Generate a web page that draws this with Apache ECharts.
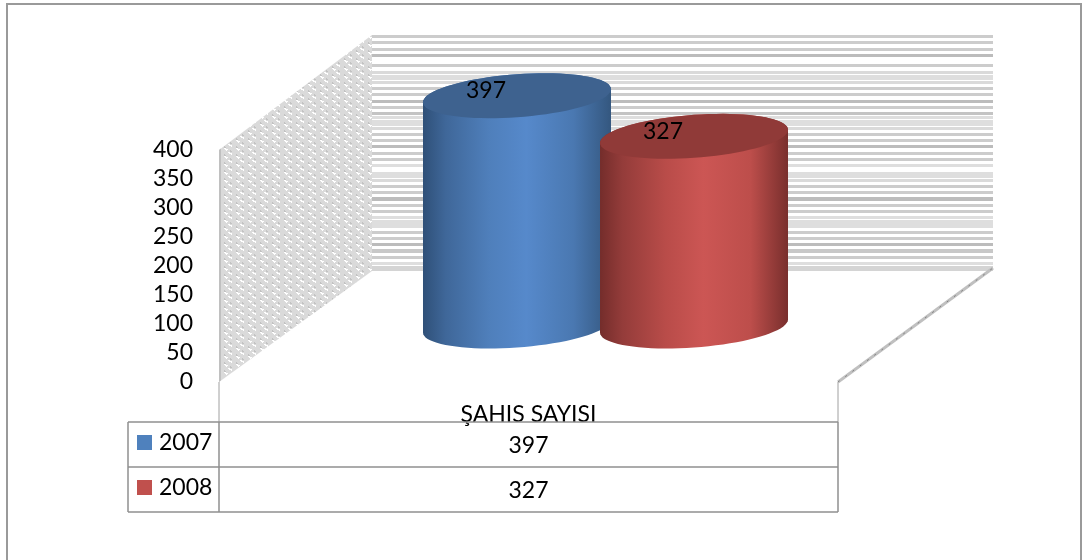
<!DOCTYPE html>
<html>
<head>
<meta charset="utf-8">
<style>
  html, body { margin: 0; padding: 0; background: #fff; }
  #chart { width: 1083px; height: 560px; }
</style>
<script src="https://cdn.jsdelivr.net/npm/echarts@6/dist/echarts.min.js"></script>
</head>
<body>
<div id="chart"></div>
<script>
const CATEGORIES = ['ŞAHIS SAYISI']
const YEARS = ['2007', '2008']
const VALUES_2007 = [397]
const VALUES_2008 = [327]
const Y_TICK_MAX = 400
const Y_TICK_STEP = 50

const FONT = 'Lato, "Open Sans", sans-serif'
const FONT_SIZE = 23
const BLUE = '#4f81bd'
const RED = '#c0504d'

// arka duvar seritleri: [y, yukseklik, gri]
const WALL_STRIPES = [
  [35, 3, '#cccccc'], [41, 3, '#cccccc'], [48, 3, '#cccccc'], [54, 3, '#bcbcbc'],
  [64, 3, '#cccccc'], [71, 3, '#dadada'], [75, 5, '#dedede'], [81, 3, '#dadada'],
  [87, 3, '#cccccc'], [93, 3, '#cccccc'], [100, 3, '#bcbcbc'], [106, 3, '#cccccc'],
  [112, 3, '#c4c4c4'], [116, 3, '#dedede'], [120, 6, '#dedede'], [127, 3, '#dadada'],
  [133, 3, '#cccccc'], [139, 3, '#cccccc'], [145, 3, '#bcbcbc'], [152, 3, '#cccccc'],
  [158, 3, '#cccccc'], [164, 3, '#dedede'], [172, 6, '#dedede'], [179, 3, '#dadada'],
  [185, 3, '#cccccc'], [191, 3, '#cccccc'], [197, 4, '#bcbcbc'], [204, 3, '#cccccc'],
  [210, 3, '#cccccc'], [216, 3, '#dedede'], [220, 8, '#dedede'], [231, 3, '#cccccc'],
  [237, 3, '#cccccc'], [243, 3, '#bcbcbc'], [249, 4, '#c8c8c8'], [256, 3, '#cccccc'],
  [262, 3, '#dedede'], [266, 5, '#d4d4d4'],
]

// sol duvar dokusu
function wallTile() {
  const rows = [
    '..##########',
    '#...########',
    '###.####d###',
    '########dd##',
    '########..##',
    '#########...',
    '##d#######.#',
    '##dd########',
  ]
  const c = document.createElement('canvas')
  c.width = 12
  c.height = 8
  const g = c.getContext('2d')
  const colors = { '#': '#dadada', '.': '#ffffff', d: '#c2c2c2' }
  rows.forEach((r, y) => {
    for (let x = 0; x < 12; x++) {
      g.fillStyle = colors[r[x]]
      g.fillRect(x, y, 1, 1)
    }
  })
  return c
}

function cylinderItem(offset, sideStops, topColor) {
  return (params, api) => {
    const idx = api.value(0)
    const band = api.size([1, 0])[0]
    const cx = api.coord([idx, 0])[0] + band * offset
    const baseY = api.coord([idx, 0])[1]
    const topY = api.coord([idx, api.value(1)])[1]
    const rx = band * 0.1216
    const ry = 21.5
    const tilt = 0.07
    const pt = (t, cy) => {
      const dx = rx * Math.cos(t)
      return [cx + dx, cy + ry * Math.sin(t) - tilt * dx]
    }
    const body = []
    const top = []
    for (let i = 0; i <= 40; i++) body.push(pt((Math.PI * i) / 40, baseY))
    for (let i = 0; i <= 40; i++) body.push(pt(Math.PI + (Math.PI * i) / 40, topY))
    for (let i = 0; i < 80; i++) top.push(pt((2 * Math.PI * i) / 80, topY))
    return {
      type: 'group',
      children: [
        {
          type: 'polygon',
          shape: { points: body },
          style: {
            fill: { type: 'linear', x: 0, y: 0, x2: 1, y2: 0, colorStops: sideStops },
          },
        },
        { type: 'polygon', shape: { points: top }, style: { fill: topColor } },
        {
          type: 'text',
          z2: 10,
          style: {
            text: String(api.value(1)),
            x: cx - rx * 0.33,
            y: topY - 5,
            align: 'center',
            verticalAlign: 'middle',
            font: FONT_SIZE + 'px ' + FONT,
            fill: '#000',
          },
        },
      ],
    }
  }
}

const blueStops = [
  { offset: 0, color: '#2f5078' },
  { offset: 0.12, color: '#3f6799' },
  { offset: 0.35, color: '#4f7fbb' },
  { offset: 0.55, color: '#5689cb' },
  { offset: 0.8, color: '#4a78b1' },
  { offset: 1, color: '#34577f' },
]
const redStops = [
  { offset: 0, color: '#742d2b' },
  { offset: 0.12, color: '#943c3a' },
  { offset: 0.35, color: '#b94c49' },
  { offset: 0.55, color: '#cc5654' },
  { offset: 0.8, color: '#bd4e4b' },
  { offset: 1, color: '#792f2d' },
]

const LINE = '#8f8f8f'
const line = (x1, y1, x2, y2, stroke, lineWidth, extra) => ({
  type: 'line',
  z: 5,
  shape: { x1, y1, x2, y2 },
  style: { stroke, lineWidth, ...extra },
})

const graphics = [
  // dis cerceve
  {
    type: 'rect', z: 0,
    shape: { x: 7, y: 4, width: 1074, height: 600 },
    style: { fill: 'none', stroke: '#9a9a9a', lineWidth: 2 },
  },
  // duvarlar
  ...WALL_STRIPES.map(([y, h, c]) => ({
    type: 'rect', z: 0,
    shape: { x: 372, y, width: 621, height: h },
    style: { fill: c },
  })),
  {
    type: 'polygon', z: 0,
    shape: { points: [[219, 150], [372, 35], [372, 271], [219, 382]] },
    style: { fill: { image: wallTile(), repeat: 'repeat' } },
  },
  {
    type: 'polygon', z: 0,
    shape: { points: [[219, 150], [221, 148.5], [221, 380.5], [219, 382]] },
    style: { fill: '#c0c0c0' },
  },
  // zemin
  line(219, 382, 219, 422, '#a0a0a0', 1),
  line(838, 382, 838, 422, '#a0a0a0', 1),
  line(838, 382, 993, 268, '#c0c0c0', 3),
  line(838, 382, 993, 268, '#808080', 1, { lineDash: [2, 7] }),
  // tablo
  line(128, 422, 838, 422, LINE, 1.5),
  line(128, 467, 838, 467, LINE, 1.5),
  line(128, 512, 838, 512, LINE, 1.5),
  line(128, 422, 128, 512, LINE, 1.5),
  line(219, 422, 219, 512, LINE, 1.5),
  line(838, 422, 838, 512, LINE, 1.5),
  ...[VALUES_2007, VALUES_2008].map((vals, i) => ({
    type: 'text', z: 6,
    style: {
      text: String(vals[0]),
      x: 528.5,
      y: 446 + i * 45,
      align: 'center',
      verticalAlign: 'middle',
      font: FONT_SIZE + 'px ' + FONT,
      fill: '#000',
    },
  })),
]

const chart = echarts.init(document.getElementById('chart'), null, { renderer: 'canvas' })
chart.setOption({
  animation: false,
  backgroundColor: '#fff',
  textStyle: { fontFamily: FONT },
  graphic: { elements: graphics },
  legend: {
    data: YEARS,
    orient: 'vertical',
    left: 137,
    top: 431,
    itemWidth: 15,
    itemHeight: 15,
    itemGap: 22,
    icon: 'rect',
    padding: 0,
    selectedMode: false,
    textStyle: { fontFamily: FONT, fontSize: FONT_SIZE, color: '#000', padding: [0, 0, 0, 2] },
  },
  grid: [
    { left: 219, top: 150, width: 619, height: 232 },
    { left: 219, top: 94, width: 773, height: 232 },
  ],
  xAxis: [
    {
      gridIndex: 0,
      type: 'category',
      data: CATEGORIES,
      axisLine: { show: false },
      axisTick: { show: false },
      axisLabel: { color: '#000', fontSize: FONT_SIZE, fontFamily: FONT, margin: 21 },
    },
    { gridIndex: 1, type: 'category', data: CATEGORIES, show: false },
  ],
  yAxis: [
    {
      gridIndex: 0,
      type: 'value',
      min: 0,
      max: Y_TICK_MAX,
      interval: Y_TICK_STEP,
      splitLine: { show: false },
      axisLine: { show: false },
      axisTick: { show: false },
      axisLabel: {
        color: '#000',
        fontSize: FONT_SIZE,
        fontFamily: FONT,
        margin: 26,
        padding: [3, 0, 0, 0],
      },
    },
    { gridIndex: 1, type: 'value', min: 0, max: Y_TICK_MAX, show: false, splitLine: { show: false } },
  ],
  series: [
    {
      name: YEARS[0],
      type: 'custom',
      xAxisIndex: 1,
      yAxisIndex: 1,
      itemStyle: { color: BLUE },
      renderItem: cylinderItem(-0.1145, blueStops, '#3e628f'),
      data: VALUES_2007.map((v, i) => [i, v]),
      z: 2,
    },
    {
      name: YEARS[1],
      type: 'custom',
      xAxisIndex: 1,
      yAxisIndex: 1,
      itemStyle: { color: RED },
      renderItem: cylinderItem(0.1145, redStops, '#903a38'),
      data: VALUES_2008.map((v, i) => [i, v]),
      z: 3,
    },
  ],
})
</script>
</body>
</html>
